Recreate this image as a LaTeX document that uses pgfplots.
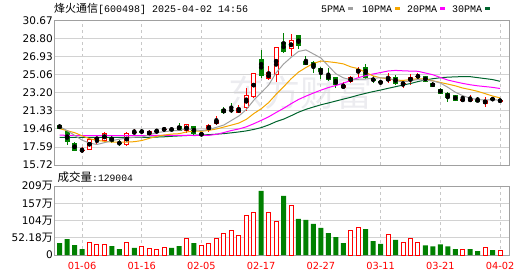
\documentclass[border=0pt]{standalone}
\usepackage{fontspec}
\setmainfont{DejaVu Sans}
\newfontfamily\cjk{Noto Sans CJK SC}
\newfontfamily\mono{Liberation Mono}
\usepackage{pgfplots}
\usepackage{pgfplotstable}
\pgfplotsset{compat=1.18}
\definecolor{kred}{RGB}{255,0,0}
\definecolor{kgreen}{RGB}{0,128,0}
\definecolor{magray}{RGB}{160,160,160}
\definecolor{maorange}{RGB}{245,166,0}
\definecolor{mamag}{RGB}{255,0,255}
\definecolor{madgreen}{RGB}{0,100,45}
\definecolor{framec}{RGB}{160,160,160}
\definecolor{gridh}{RGB}{210,210,210}
\definecolor{gridv}{RGB}{200,200,200}
\definecolor{wm}{RGB}{236,236,240}

% red (close >= open) candles
\pgfplotstableread{
x O H L C
3 17.22 17.60 17.00 17.25
4 17.30 18.50 17.25 18.45
5 18.40 18.66 17.80 18.50
6 18.25 19.18 18.20 19.00
9 17.80 19.18 17.69 19.01
10 19.08 19.46 18.94 19.12
12 18.85 19.35 18.80 19.22
13 19.18 19.45 19.10 19.22
14 19.38 19.60 19.28 19.45
17 19.20 20.00 19.00 19.95
19 18.88 19.00 18.80 18.95
20 19.36 20.00 19.10 19.87
21 19.95 20.82 19.90 20.40
24 21.15 21.95 21.09 21.60
25 21.67 23.68 21.33 22.99
26 22.81 25.30 22.70 25.24
28 24.62 25.97 24.50 25.34
29 25.06 28.00 24.30 27.94
31 27.73 29.30 27.05 28.70
38 23.68 24.30 23.60 24.02
39 24.37 25.00 24.20 24.82
40 25.34 25.93 24.90 25.65
44 24.40 25.24 24.28 24.82
46 24.15 24.45 23.68 24.20
47 24.40 25.15 24.00 24.88
48 24.90 25.25 24.60 24.96
54 22.40 22.98 22.38 22.55
55 22.45 22.95 22.30 22.50
57 22.08 22.78 21.70 22.50
59 22.32 22.50 22.30 22.47
}\upK

% green (close < open) candles
\pgfplotstableread{
x O H L C
0 19.90 20.00 19.45 19.46
1 19.28 19.32 17.80 18.07
2 18.05 18.10 17.15 17.17
7 18.55 18.83 18.05 18.13
8 18.00 18.30 17.72 17.95
11 19.20 19.46 18.95 19.16
15 19.42 19.60 19.25 19.38
16 19.80 20.05 19.20 19.28
18 19.77 19.80 18.85 18.90
22 21.50 21.77 21.00 21.10
23 21.42 22.20 21.15 21.36
27 26.74 27.66 24.72 24.98
30 28.45 29.42 27.30 27.50
32 29.20 29.25 27.80 28.05
33 26.50 27.00 26.05 26.15
34 26.40 26.50 25.30 25.85
35 25.75 25.90 24.65 25.40
36 25.06 25.76 24.44 24.58
37 24.85 24.90 23.68 24.02
41 25.90 26.25 24.70 24.72
42 24.70 24.92 24.25 24.45
43 24.47 24.52 24.00 24.20
45 24.85 25.06 24.00 24.13
49 24.96 25.00 24.30 24.35
50 24.27 24.30 23.80 23.85
51 23.65 23.75 23.05 23.10
52 23.20 23.25 22.29 22.71
53 22.98 23.00 22.35 22.40
56 22.42 22.75 22.30 22.38
58 22.68 22.70 22.40 22.45
}\dnK

% volume (10k shares), red bars
\pgfplotstableread{
x V
4 38.3
5 32.3
6 32.3
9 38.3
11 26.2
12 20.2
13 17.1
14 23.2
17 50.4
19 29.2
20 35.3
21 50.4
22 65.5
23 74.6
24 60.5
25 120.0
26 129.0
28 129.0
29 102.8
31 150.2
39 74.6
40 81.7
44 62.5
46 38.3
47 50.4
48 38.3
54 17.1
57 23.2
59 12.9
}\volR

% volume, green bars
\pgfplotstableread{
x V
0 36.3
1 48.4
2 30.2
3 18.1
7 27.2
8 18.1
10 21.2
15 21.2
16 27.2
18 36.3
27 193.6
30 178.5
32 108.9
33 105.9
34 93.8
35 81.7
36 66.5
37 54.4
38 36.3
41 78.6
42 42.3
43 33.3
45 45.4
49 29.2
50 26.2
51 32.3
52 26.2
53 18.1
55 18.1
56 12.1
58 15.1
}\volG

% moving averages
\pgfplotstableread{
x m5 m10 m20 m30
0 19.70 19.50 18.82 18.60
1 19.30 19.28 18.80 18.60
2 18.80 19.08 18.78 18.60
3 18.30 18.75 18.76 18.60
4 18.00 18.45 18.76 18.60
5 17.85 18.28 18.76 18.60
6 18.04 18.18 18.78 18.60
7 18.24 18.10 18.78 18.60
8 18.40 18.08 18.76 18.60
9 18.51 18.10 18.76 18.60
10 18.60 18.14 18.76 18.60
11 18.62 18.26 18.78 18.60
12 18.84 18.48 18.78 18.60
13 19.09 18.70 18.80 18.62
14 19.18 18.83 18.80 18.65
15 19.26 18.93 18.80 18.70
16 19.31 18.97 18.80 18.74
17 19.46 19.15 18.80 18.78
18 19.39 19.24 18.78 18.81
19 19.30 19.22 18.79 18.84
20 19.40 19.32 18.80 18.87
21 19.63 19.46 18.90 18.92
22 19.87 19.66 19.09 18.98
23 20.34 19.86 19.30 19.06
24 20.80 20.07 19.46 19.15
25 21.47 20.45 19.68 19.26
26 22.44 21.05 20.00 19.41
27 23.23 21.56 20.35 19.60
28 24.02 22.20 20.72 19.88
29 25.29 23.06 21.17 20.22
30 26.20 23.83 21.60 20.48
31 26.89 24.66 22.08 20.83
32 27.51 25.36 22.52 21.20
33 27.67 25.84 22.87 21.50
34 27.25 26.27 23.19 21.74
35 26.83 26.51 23.49 21.97
36 26.01 26.44 23.76 22.16
37 25.20 26.35 23.97 22.36
38 24.77 26.22 24.22 22.56
39 24.57 25.91 24.49 22.75
40 24.62 25.72 24.78 22.97
41 24.65 25.33 25.00 23.16
42 24.73 24.97 25.17 23.34
43 24.77 24.77 25.32 23.50
44 24.77 24.67 25.48 23.68
45 24.46 24.54 25.54 23.85
46 24.36 24.50 25.50 24.02
47 24.45 24.59 25.47 24.18
48 24.60 24.68 25.45 24.38
49 24.50 24.64 25.27 24.55
50 24.45 24.46 25.09 24.68
51 24.23 24.29 24.81 24.78
52 23.79 24.12 24.54 24.84
53 23.28 23.94 24.36 24.87
54 22.92 23.71 24.19 24.90
55 22.65 23.55 24.05 24.89
56 22.51 23.37 23.94 24.79
57 22.47 23.13 23.86 24.69
58 22.48 22.88 23.78 24.59
59 22.46 22.69 23.66 24.41
}\maT

\pgfplotsset{
  kbase/.style={
    scale only axis, width=454pt, xmin=-0.62, xmax=60.2,
    xtick={3,11,19,27,35,43,51,59},
    major tick length=0pt,
    axis line style={draw=framec, line width=1pt},
    xmajorgrids, ymajorgrids,
    x grid style={draw=gridv, line width=1pt, dash pattern=on 3pt off 3pt},
    y grid style={draw=gridh, line width=1pt},
    yticklabel style={font=\fontsize{10.5}{12}\selectfont, text=black, inner sep=2pt},
  },
  wick/.style={only marks, mark=none, forget plot,
    error bars/.cd, y dir=both, y explicit, error mark=none,
    error bar style={draw=#1, line width=1pt}},
  body/.style 2 args={only marks, mark=none, forget plot,
    error bars/.cd, y dir=both, y explicit, error mark=none,
    error bar style={draw=#1, line width=#2}},
}
\newcommand{\wan}{{\cjk\fontsize{11}{12}\selectfont 万}}

\begin{document}
\begin{tikzpicture}
\path[use as bounding box] (0pt,0pt) rectangle (530pt,276pt);

% watermark
\node[text=wm, font=\cjk\fontsize{36}{36}\selectfont, inner sep=0] at (300pt,183pt) {东方财富};

% title and legend
\node[anchor=base west, inner sep=0] at (54pt,263pt)
  {{\cjk\fontsize{11}{12}\selectfont 烽火通信}{\mono\fontsize{10}{12}\selectfont [600498] 2025-04-02 14:56}};
\begin{scope}[font=\mono\fontsize{10}{12}\selectfont]
\node[anchor=base west, inner sep=0] at (321pt,263.3pt) {5PMA};
\fill[magray] (347.5pt,266pt) rectangle (352.5pt,269.3pt);
\node[anchor=base west, inner sep=0] at (362pt,263.3pt) {10PMA};
\fill[maorange] (394.5pt,266pt) rectangle (399.5pt,269.3pt);
\node[anchor=base west, inner sep=0] at (407pt,263.3pt) {20PMA};
\fill[mamag] (440pt,266pt) rectangle (445pt,269.3pt);
\node[anchor=base west, inner sep=0] at (452pt,263.3pt) {30PMA};
\fill[madgreen] (485pt,266pt) rectangle (490pt,269.3pt);
\end{scope}
\node[anchor=base west, inner sep=0] at (57.5pt,94pt)
  {{\cjk\fontsize{11.5}{12}\selectfont 成交量}{\mono\fontsize{9.7}{12}\selectfont :129004}};

% price panel
\begin{axis}[kbase, at={(55pt,111pt)}, anchor=south west, height=144pt,
  ymin=15.72, ymax=30.67,
  ytick={15.72,17.58875,19.4575,21.32625,23.195,25.06375,26.9325,28.80125,30.67},
  yticklabels={15.72,17.59,19.46,21.33,23.20,25.06,26.93,28.80,30.67},
  xticklabel={\mbox{}}]
  % green candles
  \addplot[wick=kgreen] table[x=x, y expr={(\thisrow{H}+\thisrow{L})/2}, y error expr={(\thisrow{H}-\thisrow{L})/2}] {\dnK};
  \addplot[body={kgreen}{5pt}] table[x=x, y expr={(\thisrow{O}+\thisrow{C})/2}, y error expr={max(abs(\thisrow{O}-\thisrow{C})/2,0.05)}] {\dnK};
  % red candles (hollow)
  \addplot[wick=kred] table[x=x, y expr={(\thisrow{H}+\thisrow{L})/2}, y error expr={(\thisrow{H}-\thisrow{L})/2}] {\upK};
  \addplot[body={kred}{5pt}] table[x=x, y expr={(\thisrow{O}+\thisrow{C})/2}, y error expr={max(abs(\thisrow{O}-\thisrow{C})/2,0.05)}] {\upK};
  \addplot[body={white}{3pt}] table[x=x, y expr={(\thisrow{O}+\thisrow{C})/2}, y error expr={max(abs(\thisrow{O}-\thisrow{C})/2-0.104,0)}] {\upK};
  % moving averages
  \addplot[draw=madgreen, line width=1pt, mark=none] table[x=x, y=m30] {\maT};
  \addplot[draw=mamag, line width=1pt, mark=none] table[x=x, y=m20] {\maT};
  \addplot[draw=maorange, line width=1pt, mark=none] table[x=x, y=m10] {\maT};
  \addplot[draw=magray, line width=1pt, mark=none] table[x=x, y=m5] {\maT};
\end{axis}

% volume panel
\begin{axis}[kbase, at={(55pt,21pt)}, anchor=south west, height=69pt,
  ymin=0, ymax=208.72,
  ytick={0,52.18,104.36,156.54,208.72},
  yticklabels={0,52.18\wan,104\wan,157\wan,209\wan},
  xticklabels={01-06,01-16,02-05,02-17,02-27,03-11,03-21,04-02},
  xticklabel style={text=kred, font=\fontsize{9.8}{12}\selectfont, yshift=-3.5pt}]
  \addplot[ybar, bar width=5pt, bar shift=0pt, fill=kgreen, draw=none] table[x=x, y=V] {\volG};
  \addplot[ybar, bar width=4pt, bar shift=0pt, fill=white, draw=kred, line width=1pt] table[x=x, y=V] {\volR};
\end{axis}
\end{tikzpicture}
\end{document}
